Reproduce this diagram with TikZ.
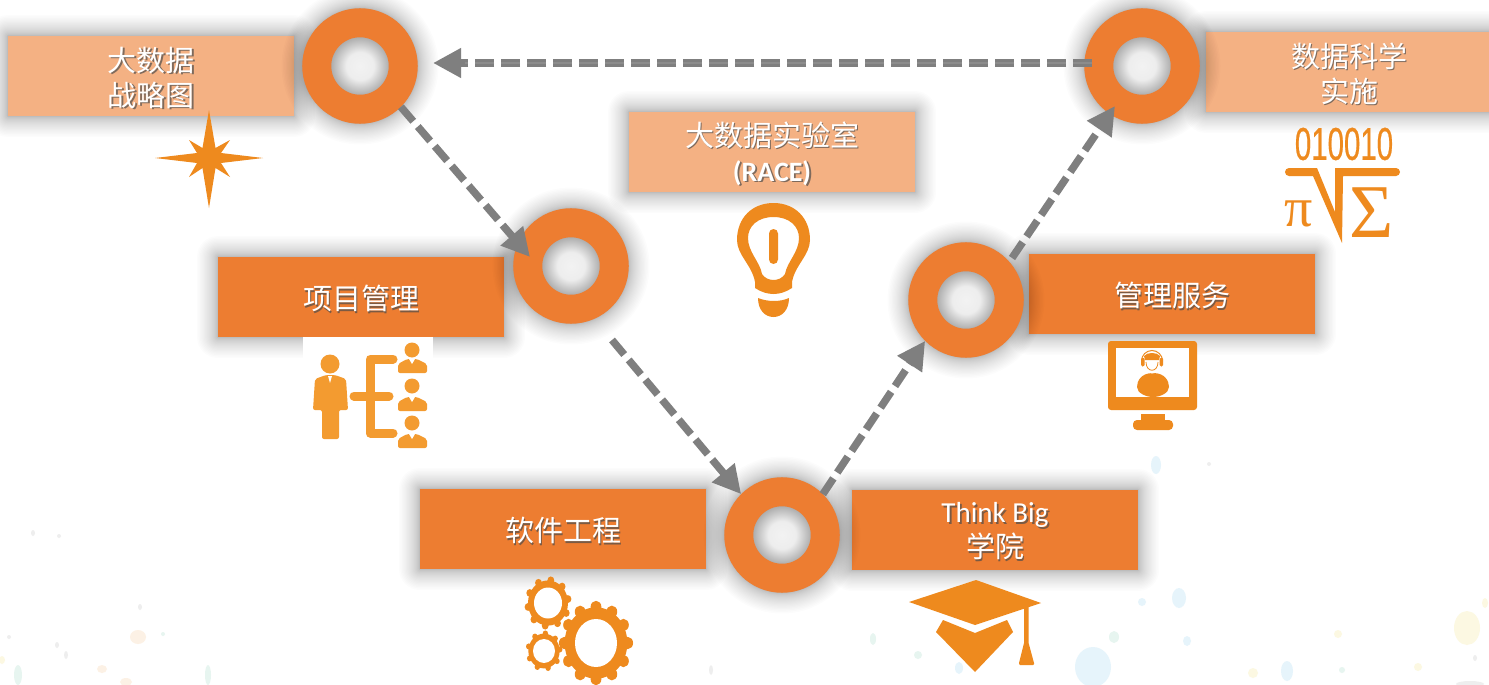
\documentclass[tikz,border=0pt]{standalone}
\usepackage{fontspec}
\setmainfont{Carlito}
\newfontfamily\cjk{Noto Sans CJK SC}
\newfontfamily\symserif{Liberation Serif}
\newfontfamily\symsans[FakeBold=0.6]{Liberation Sans}
\usetikzlibrary{arrows.meta,calc}

\definecolor{ringorange}{HTML}{ED7D31}
\definecolor{paleorange}{HTML}{F4B183}
\definecolor{iconorange}{HTML}{EE8A1E}
\definecolor{softorange}{HTML}{F39B30}
\definecolor{flowgray}{HTML}{7F7F7F}
\definecolor{spotblue}{HTML}{DCF0FA}
\definecolor{spotyellow}{HTML}{FBF6D6}
\definecolor{spotgreen}{HTML}{DDF1EA}
\definecolor{spotpeach}{HTML}{FCECDA}
\definecolor{spotgray}{HTML}{E8E8E8}

\pgfdeclareradialshading{holeshade}{\pgfpointorigin}{
  color(0bp)=(white!95!black); color(8bp)=(white!93!black);
  color(16.7bp)=(white!68!black); color(50bp)=(white!68!black)}

\tikzset{
  labelbox/.style={minimum width=286pt, minimum height=80pt, inner sep=0pt, outer sep=0pt},
  darkbox/.style={labelbox, fill=ringorange},
  lightbox/.style={labelbox, fill=paleorange},
  boxtext/.style={align=center, inner sep=0pt, text=white, font=\cjk\fontsize{29}{35}\selectfont},
  ring/.style={circle, shading=holeshade, draw=ringorange, line width=29pt, minimum size=86.5pt, inner sep=0pt},
  flow/.style={draw=flowgray, line width=7.5pt, dash pattern=on 19pt off 7pt,
    -{Triangle[length=28pt,width=28pt]}},
  icon/.style={fill=iconorange},
  softicon/.style={fill=softorange},
}

% box with soft shadow and shadowed text
\newcommand{\labelnode}[4]{
  \foreach \k in {1,...,24}{
    \pgfmathsetmacro{\g}{21*(\k/24)^1.7}
    \fill[black, opacity=.012, rounded corners=\g pt]
      ($(#3)+(-143-\g,-40-\g)$) rectangle ($(#3)+(143+\g,40+\g)$);
  }
  \node[#2] (#1) at (#3) {};
  \node[boxtext, text=black!70, opacity=.7] (#1shade) at ($(#1)+(1.8,3.2)$) {#4};
  \node[boxtext] (#1text) at ($(#1)+(0,1.5)$) {#4};
}
\newcommand{\ringnode}[2]{
  \foreach \k in {1,...,24}{
    \pgfmathsetmacro{\g}{21*(\k/24)^1.7}
    \fill[black, opacity=.012] (#2) circle (57.5+\g);
  }
  \node[ring] (#1) at (#2) {};
}
\newcommand{\gearicon}[7]{
  \begin{scope}[shift={(#1)}, x=#2pt, y=#3pt]
    \fill[icon] (0,0) circle (.87);
    \foreach \a in {0,#6,...,359}{
      \fill[icon] (\a+#7:.88) circle (.15);
    }
  \end{scope}
  \fill[white] (#1) ellipse ({#4} and {#5});
}

\begin{document}
\begin{tikzpicture}[x=1pt, y=-1pt]
  \useasboundingbox (0,0) rectangle (1489,685);
  \fill[white] (0,0) rectangle (1489,685);

  % paint spots of the backdrop
  \foreach \px/\py/\rx/\ry/\col in {
    1156/465/5/9/spotblue, 1209/464/2/2/spotgray, 1179/598/7/10/spotblue,
    1142/602/4/4/spotblue, 1114/637/5/6/spotgreen, 1093/667/18/20/spotblue,
    1187/641/4/5/spotblue, 1287/671/6/10/spotblue, 1467/628/13/17/spotyellow,
    1338/634/4/4/spotyellow, 1253/673/5/5/spotyellow, 1342/670/3/3/spotgreen,
    1418/667/4/4/spotyellow, 1475/658/2/3/spotgray, 1485/603/3/5/spotyellow,
    33/533/2/3/spotgray, 59/536/2/2/spotgray, 140/607/2/3/spotgray,
    138/637/8/7/spotpeach, 163/634/2/2/spotgreen, 9/637/2/2/spotgray,
    57/645/2/3/spotgray, 66/655/2/4/spotgray, 18/675/4/10/spotgreen,
    208/675/3/10/spotgreen, 102/669/5/4/spotpeach, 126/682/6/4/spotpeach,
    2/660/3/4/spotyellow, 873/639/3/6/spotgreen, 918/655/4/4/spotgreen,
    959/668/4/6/spotblue, 711/670/2/5/spotgray, 1470/684/14/3/spotgray}{
    \fill[\col, opacity=.7] (\px,\py) ellipse ({\rx} and {\ry});
  }

  \labelnode{stratbox}{lightbox}{151,76}{大数据\\战略图}
  \labelnode{racebox}{lightbox}{772,152}{大数据实验室\\{\fontspec{Carlito}\bfseries\fontsize{28}{35}\selectfont (RACE)}}
  \labelnode{projbox}{darkbox}{361,297}{项目管理}
  \labelnode{servbox}{darkbox}{1172,294}{管理服务}
  \labelnode{softbox}{darkbox}{563,529}{软件工程}
  \labelnode{thinkbox}{darkbox}{995,530}{{\fontspec{Carlito}Think Big}\\学院}
  \labelnode{scibox}{lightbox}{1349,72}{数据科学\\实施}

  \ringnode{stratring}{360,66}
  \ringnode{projring}{571,266}
  \ringnode{softring}{782,535}
  \ringnode{servring}{966,300}
  \ringnode{sciring}{1142,66}

  \draw[flow] (stratring.-45) -- ($(projring)+(-41,-9)$);
  \draw[flow] ($(projring)+(41,74)$) -- (softring.135);
  \draw[flow] (softring.45) -- (servring.-135);
  \draw[flow] ($(servring)+(46,-42)$) -- ($(sciring)+(-27,40)$);
  \draw[flow] ($(sciring)+(-50,-3)$) -- ($(stratring)+(73,-3)$);
  \draw[draw=white!55!black, line width=2pt, dash pattern=on 19pt off 7pt]
    ($(sciring)+(-50,-3)$) -- ($(stratring)+(105,-3)$);

  % star
  \fill[icon] (209,110) -- (215.5,148) -- (230,140) -- (221,153) -- (263,158) -- (221,163)
    -- (230,177) -- (215.5,168) -- (209,208) -- (202.5,168) -- (189,177) -- (197,163)
    -- (155,158) -- (197,153) -- (189,140) -- (202.5,148) -- cycle;

  % people chart
  \fill[white] (303,337) rectangle (433,450);
  \fill[softicon] (330,364) circle (9.5);
  \fill[softicon, rounded corners=2pt] (315,379) -- (326,375) -- (335,375) -- (346,379)
    -- (348,410) -- (339,410) -- (339,439) -- (322,439) -- (322,410) -- (313,410) -- cycle;
  \fill[white] (328,376) -- (332,376) -- (330,383) -- cycle;
  \draw[draw=softorange, line width=9pt, line cap=round, line join=round]
    (393,359) -- (370,359) -- (370,433) -- (393,433) (354,396) -- (389,396);
  \foreach \hy/\by in {350/359, 386/397, 423/434}{
    \fill[softicon] (412,\hy) circle (7.5);
    \fill[softicon, rounded corners=2pt] (398,\by+14) -- (398,\by+5) -- (407,\by) -- (417,\by)
      -- (427,\by+5) -- (427,\by+14) -- cycle;
    \fill[white] (409,\by) -- (415,\by) -- (412,\by+5) -- cycle;
  }

  % gears
  \gearicon{596,643}{36}{41}{21}{24}{30}{0}
  \gearicon{548,603}{23}{26}{14}{15.5}{36}{10}
  \gearicon{544,651}{18}{20}{11}{12}{40}{5}

  % cap
  \fill[icon] (909,602) -- (976,580) -- (1041,603) -- (975,625) -- cycle;
  \fill[icon] (943,620) -- (975,633) -- (1007,620) -- (1013,632) -- (975,672) -- (936,632) -- cycle;
  \fill[icon] (1024,607) -- (1028.6,605.5) -- (1028.6,643) -- (1034,663)
    [rounded corners=1pt] -- (1034,665) -- (1019,665) [sharp corners] -- (1019,663) -- (1024,643) -- cycle;

  % bulb
  \fill[icon, even odd rule] (755,282) .. controls (752,265) and (737,255) .. (737,240)
    .. controls (737,218) and (752,203) .. (773.5,203) .. controls (795,203) and (810,218) .. (810,240)
    .. controls (810,255) and (795,265) .. (792,282) -- (792,288)
    .. controls (780,296) and (767,296) .. (755,288) -- cycle
    (762,274) .. controls (760,262) and (748,252) .. (748,238)
    .. controls (748,226) and (758,217) .. (773.5,217) .. controls (789,217) and (799,226) .. (799,238)
    .. controls (799,252) and (787,262) .. (785,274) .. controls (780,282) and (767,282) .. (762,274) -- cycle;
  \fill[icon, rounded corners=4.5pt] (769,229) rectangle (778,264);
  \fill[icon] (758,298) .. controls (768,302) and (780,302) .. (789,298)
    .. controls (789,310) and (782,317) .. (773.5,317) .. controls (765,317) and (758,310) .. (758,298) -- cycle;

  % math sign
  \node[inner sep=0pt, text=iconorange, xscale=.64, font=\symsans\fontsize{46}{46}\selectfont]
    (bits) at (1344,144) {010010};
  \fill[icon] (1289,168) -- (1317,168) -- (1335,212) -- (1335,168) -- (1396,168) -- (1396,176)
    -- (1343,176) -- (1342,243) -- (1313,176) -- (1289,176) -- cycle;
  \fill[icon] (1289,172) circle (4) (1396,172) circle (4);
  \node[inner sep=0pt, text=iconorange, font=\symserif\fontsize{56}{56}\selectfont] (pisign) at (1299,214) {π};
  \node[inner sep=0pt, text=iconorange, font=\symserif\fontsize{76}{76}\selectfont] (sumsign) at (1372,213) {Σ};

  % monitor
  \fill[icon, rounded corners=3pt] (1108,341) rectangle (1197,410);
  \fill[white] (1116,348) rectangle (1189,397);
  \fill[icon] (1141,414) rectangle (1165,422);
  \fill[icon, rounded corners=4pt] (1133,420) rectangle (1173,430);
  \fill[icon] (1153,373) .. controls (1165,373) and (1169,381) .. (1169,387)
    .. controls (1169,393) and (1160,397) .. (1153,397) .. controls (1146,397) and (1137,393) .. (1137,387)
    .. controls (1137,381) and (1141,373) .. (1153,373) -- cycle;
  \fill[white] (1152,363) circle (10.5);
  \draw[draw=iconorange, line width=1pt] (1152,361) circle (10.5);
  \fill[white] (1143,363) rectangle (1161,373);
  \fill[icon] (1144,356) .. controls (1147,352) and (1157,352) .. (1160,356) -- (1159,360) -- (1145,360) -- cycle;
  \fill[icon, rounded corners=1pt] (1141,358) rectangle (1144.5,366) (1159.5,358) rectangle (1163,366);
  \draw[draw=iconorange, line width=.8pt] (1146,362) .. controls (1146,373) and (1158,373) .. (1158,362);
\end{tikzpicture}
\end{document}
